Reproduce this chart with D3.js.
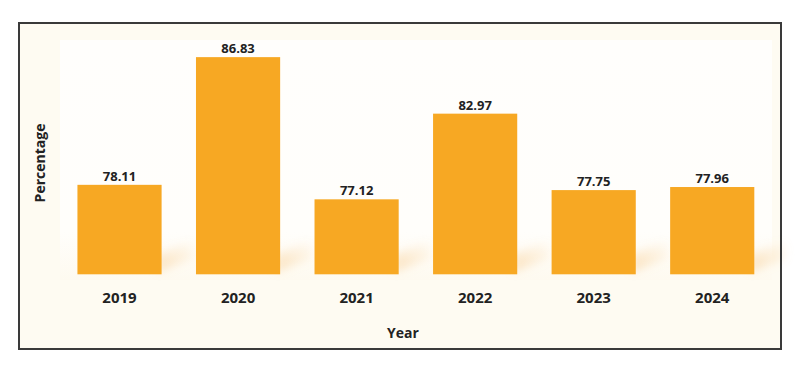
<!DOCTYPE html>
<html>
<head>
<meta charset="utf-8">
<script src="https://cdn.jsdelivr.net/npm/d3@7"></script>
<style>
html,body{margin:0;padding:0;background:#ffffff;}
svg{display:block;}
text{font-family:"Open Sans","Noto Sans",sans-serif;font-weight:700;fill:#222;}
</style>
</head>
<body>
<svg id="chart" width="800" height="367"></svg>
<script>
const years = ["2019","2020","2021","2022","2023","2024"];
const percentages = [78.11, 86.83, 77.12, 82.97, 77.75, 77.96];
const xTitle = "Year";
const yTitle = "Percentage";

const svg = d3.select("#chart");

// frame background
svg.append("rect").attr("x",19).attr("y",23).attr("width",762).attr("height",326)
  .attr("fill","#fefbf2").attr("stroke","none");

const defs = svg.append("defs");
const ig = defs.append("linearGradient").attr("id","inner").attr("x1",0).attr("y1",0).attr("x2",0).attr("y2",1);
ig.append("stop").attr("offset","0%").attr("stop-color","#fffefc");
ig.append("stop").attr("offset","80%").attr("stop-color","#fffefb");
ig.append("stop").attr("offset","100%").attr("stop-color","#fefaf0");
svg.append("rect").attr("x",60).attr("y",40).attr("width",712).attr("height",240)
  .attr("fill","url(#inner)");

const sg = defs.append("linearGradient").attr("id","shadow").attr("x1",0).attr("y1",1).attr("x2",1).attr("y2",0);
sg.append("stop").attr("offset","0%").attr("stop-color","#f6c27a").attr("stop-opacity",0.45);
sg.append("stop").attr("offset","100%").attr("stop-color","#f6c27a").attr("stop-opacity",0);
defs.append("filter").attr("id","blur").attr("x","-50%").attr("y","-50%").attr("width","200%").attr("height","200%")
  .append("feGaussianBlur").attr("stdDeviation",4);

const x = d3.scaleBand().domain(years).range([60.25, 771.5]).paddingInner(0.29).paddingOuter(0.145);
const y = d3.scaleLinear().domain([72, 88]).range([274.3, 40]);

const data = years.map((yr,i)=>({year:yr, value:percentages[i]}));

// soft shadows to the right of bars
svg.append("g").attr("filter","url(#blur)").selectAll("path").data(data).join("path")
  .attr("d", d => {
    const x1 = x(d.year) + x.bandwidth();
    const yb = y(72);
    return `M${x1-4},${yb-2} L${x1-4},${yb-20} L${x1+32},${yb-34} L${x1+32},${yb-16} Z`;
  })
  .attr("fill","url(#shadow)");

// bars
svg.append("g").selectAll("rect").data(data).join("rect")
  .attr("x", d => x(d.year))
  .attr("y", d => y(d.value))
  .attr("width", x.bandwidth())
  .attr("height", d => y(72) - y(d.value))
  .attr("fill", "#f7a823");

// value labels
svg.append("g").selectAll("text").data(data).join("text")
  .attr("x", d => x(d.year) + x.bandwidth()/2)
  .attr("y", d => y(d.value) - 4)
  .attr("text-anchor","middle")
  .style("font-size","13px")
  .text(d => d.value.toFixed(2));

// x axis (labels only)
const xAxis = svg.append("g").attr("transform", `translate(0,${y(72)})`)
  .call(d3.axisBottom(x).tickSize(0).tickPadding(0));
xAxis.select(".domain").remove();
xAxis.selectAll("text")
  .attr("y", 28.4).attr("dy", null)
  .style("font-size","15px")
  .style("font-family",'"Open Sans","Noto Sans",sans-serif')
  .style("font-weight","700")
  .attr("fill","#222");

// axis titles
svg.append("text").attr("x", 403).attr("y", 338).attr("text-anchor","middle")
  .style("font-size","14px").text(xTitle);
svg.append("text").attr("transform","translate(45,163) rotate(-90)").attr("text-anchor","middle")
  .style("font-size","14px").text(yTitle);

// frame border
svg.append("rect").attr("x",19).attr("y",23).attr("width",762).attr("height",326)
  .attr("fill","none").attr("stroke","#3a3a3a").attr("stroke-width",2);
</script>
</body>
</html>
